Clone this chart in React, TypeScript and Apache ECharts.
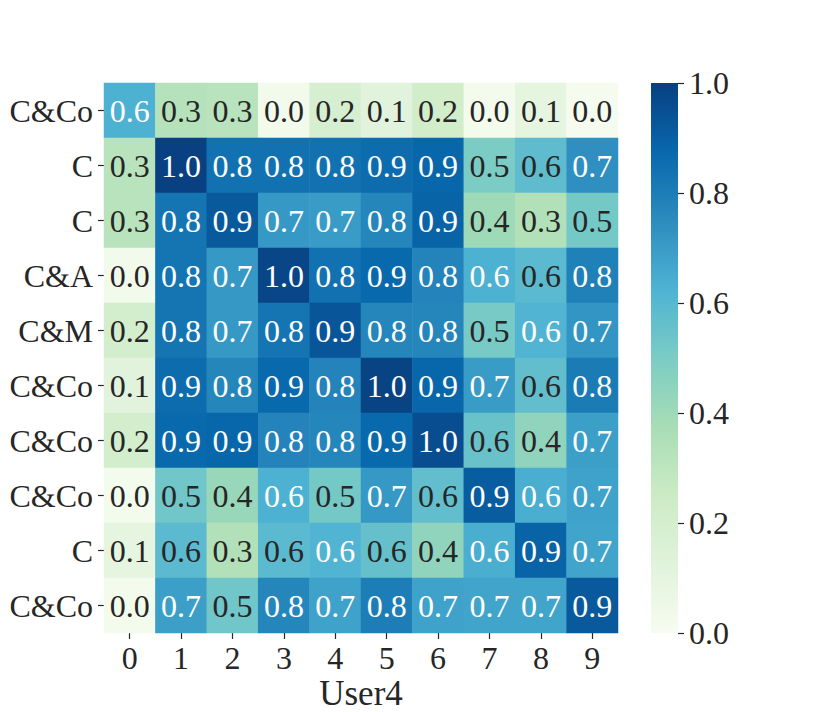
import React, { useEffect, useRef } from "react";
import * as echarts from "echarts";

const colLabels = ["0", "1", "2", "3", "4", "5", "6", "7", "8", "9"];
const rowLabels = ["C&Co", "C", "C", "C&A", "C&M", "C&Co", "C&Co", "C&Co", "C", "C&Co"];

const row0 = [0.63, 0.33, 0.32, 0.03, 0.19, 0.12, 0.22, 0.02, 0.1, 0.01];
const row1 = [0.32, 1.0, 0.84, 0.84, 0.84, 0.86, 0.88, 0.5, 0.58, 0.74];
const row2 = [0.32, 0.83, 0.92, 0.71, 0.7, 0.77, 0.89, 0.4, 0.34, 0.52];
const row3 = [0.03, 0.83, 0.71, 0.98, 0.84, 0.87, 0.78, 0.63, 0.59, 0.79];
const row4 = [0.21, 0.83, 0.71, 0.83, 0.93, 0.77, 0.77, 0.51, 0.62, 0.72];
const row5 = [0.12, 0.86, 0.77, 0.87, 0.78, 0.99, 0.88, 0.7, 0.57, 0.81];
const row6 = [0.21, 0.87, 0.88, 0.78, 0.77, 0.87, 0.96, 0.55, 0.44, 0.69];
const row7 = [0.02, 0.53, 0.42, 0.63, 0.52, 0.71, 0.57, 0.91, 0.64, 0.68];
const row8 = [0.1, 0.59, 0.34, 0.59, 0.62, 0.56, 0.44, 0.64, 0.89, 0.67];
const row9 = [0.02, 0.69, 0.53, 0.77, 0.68, 0.8, 0.68, 0.67, 0.67, 0.92];
const rows = [row0, row1, row2, row3, row4, row5, row6, row7, row8, row9];

const colorbarTicks = [0, 0.2, 0.4, 0.6, 0.8, 1.0];

const GNBU = ["#f7fcf0", "#e0f3db", "#ccebc5", "#a8ddb5", "#7bccc4", "#4eb3d3", "#2b8cbe", "#0868ac", "#084081"];

function hexToRgb(h: string) {
  return [parseInt(h.slice(1, 3), 16), parseInt(h.slice(3, 5), 16), parseInt(h.slice(5, 7), 16)];
}
function cmap(v: number) {
  const p = Math.max(0, Math.min(1, v)) * 8;
  const i = Math.min(7, Math.floor(p));
  const t = p - i;
  const a = hexToRgb(GNBU[i]);
  const b = hexToRgb(GNBU[i + 1]);
  return a.map((x, k) => x + (b[k] - x) * t);
}
function textColor(v: number) {
  const rgb = cmap(v).map((c) => {
    const s = c / 255;
    return s <= 0.03928 ? s / 12.92 : Math.pow((s + 0.055) / 1.055, 2.4);
  });
  const lum = 0.2126 * rgb[0] + 0.7152 * rgb[1] + 0.0722 * rgb[2];
  return lum > 0.408 ? "#262626" : "#ffffff";
}

const FONT = "'Liberation Serif', 'DejaVu Serif', serif";

const CB_LEFT = 651;
const CB_TOP = 83;
const CB_W = 27;
const CB_H = 550;

export default function App() {
  const ref = useRef<HTMLDivElement>(null);
  useEffect(() => {
    if (!ref.current) return;
    const chart = echarts.init(ref.current, null, { renderer: "svg" });
    const data: any[] = [];
    rows.forEach((r, y) => {
      r.forEach((v, x) => {
        data.push({ value: [x, y, v], label: { color: textColor(v) } });
      });
    });
    const gradStops = GNBU.map((c, i) => ({ offset: i / (GNBU.length - 1), color: c }));
    chart.setOption({
      animation: false,
      backgroundColor: "#ffffff",
      textStyle: { fontFamily: FONT },
      grid: [
        { left: 104, top: 83, width: 514, height: 550, outerBoundsMode: "none", containLabel: false },
        { left: CB_LEFT, top: CB_TOP, width: CB_W, height: CB_H, outerBoundsMode: "none", containLabel: false },
      ],
      xAxis: [
        {
          type: "category",
          gridIndex: 0,
          data: colLabels,
          position: "bottom",
          name: "User4",
          nameLocation: "middle",
          nameGap: 45,
          nameMoveOverlap: false,
          nameTextStyle: { fontSize: 35, lineHeight: 30, color: "#262626", fontFamily: FONT },
          axisLine: { show: false },
          axisTick: { show: true, alignWithLabel: true, length: 6, lineStyle: { color: "#262626", width: 1.2 } },
          axisLabel: { fontSize: 32, lineHeight: 28, color: "#262626", margin: 11, fontFamily: FONT },
          splitLine: { show: false },
          splitArea: { show: false },
        },
        {
          type: "category",
          gridIndex: 1,
          show: false,
          data: [""],
          axisTick: { show: false },
          axisLabel: { show: false },
          axisLine: { show: false, onZero: false },
          splitLine: { show: false },
        },
      ],
      yAxis: [
        {
          type: "category",
          gridIndex: 0,
          data: rowLabels.map((_, i) => String(i)),
          inverse: true,
          axisLine: { show: false },
          axisTick: { show: true, alignWithLabel: true, length: 6, lineStyle: { color: "#262626", width: 1.2 } },
          axisLabel: {
            fontSize: 32,
            color: "#262626",
            margin: 11,
            fontFamily: FONT,
            formatter: (_v: string, i: number) => rowLabels[i],
          },
          splitLine: { show: false },
          splitArea: { show: false },
        },
        {
          type: "value",
          gridIndex: 1,
          position: "right",
          min: colorbarTicks[0],
          max: colorbarTicks[colorbarTicks.length - 1],
          interval: 0.2,
          axisLine: { show: false, onZero: false },
          axisTick: { show: true, length: 6, lineStyle: { color: "#262626", width: 1.2 } },
          axisLabel: {
            fontSize: 32,
            color: "#262626",
            margin: 11,
            fontFamily: FONT,
            formatter: (v: number) => v.toFixed(1),
          },
          splitLine: { show: false },
        },
      ],
      visualMap: {
        type: "continuous",
        show: false,
        min: 0,
        max: 1,
        dimension: 2,
        seriesIndex: 0,
        inRange: { color: GNBU },
      },
      graphic: [
        {
          type: "rect",
          left: CB_LEFT,
          top: CB_TOP,
          shape: { width: CB_W, height: CB_H },
          style: { fill: new echarts.graphic.LinearGradient(0, 1, 0, 0, gradStops) },
          silent: true,
        },
      ],
      series: [
        {
          type: "heatmap",
          xAxisIndex: 0,
          yAxisIndex: 0,
          data,
          label: {
            show: true,
            fontSize: 32,
            fontFamily: FONT,
            formatter: (p: any) => p.value[2].toFixed(1),
          },
          itemStyle: { borderWidth: 0 },
          emphasis: { disabled: true },
        },
      ],
    });
    return () => chart.dispose();
  }, []);
  return (
    <div
      ref={ref}
      style={{ position: "fixed", left: 0, top: 0, width: 830, height: 712, background: "#fff" }}
    />
  );
}
